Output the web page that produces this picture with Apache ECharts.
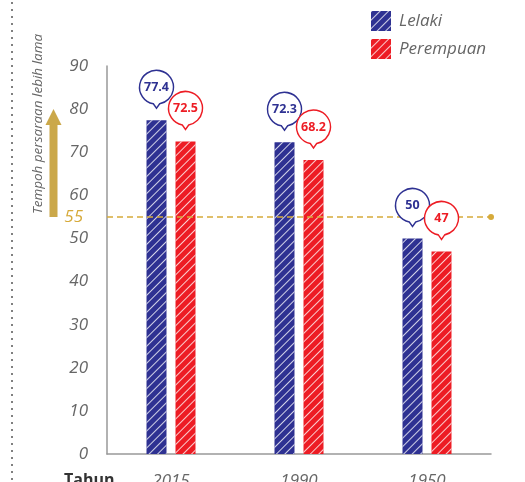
<!DOCTYPE html>
<html>
<head>
<meta charset="utf-8">
<script src="https://cdn.jsdelivr.net/npm/echarts@6/dist/echarts.min.js"></script>
<style>
html,body{margin:0;padding:0;background:#fff;}
#c{width:525px;height:482px;}
</style>
</head>
<body>
<div id="c"></div>
<script>
var categories = ['2015', '1990', '1950'];
var lelaki = [77.4, 72.3, 50];
var perempuan = [72.5, 68.2, 47];
var seriesNames = ['Lelaki', 'Perempuan'];
var yTicks = [0, 10, 20, 30, 40, 50, 60, 70, 80, 90];
var thresholdValue = 55;
var yAxisTitle = 'Tempoh persaraan lebih lama';
var xAxisTitle = 'Tahun';

var BLUE = '#2e3192';
var RED = '#ed1c24';
var GOLD = '#d6aa3a';
var GRAY = '#666666';
var FONT = '"Open Sans", "DejaVu Sans", sans-serif';

var pinPath = 'path://M14,32.72 A16,16 0 1,1 20,32.72 L17,37 Z';

function stripes() {
  return {
    symbol: 'rect',
    symbolSize: 1,
    color: 'rgba(255,255,255,0.78)',
    dashArrayX: [1, 0],
    dashArrayY: [0.9, 4.2],
    rotation: -Math.PI / 4
  };
}

function pins(values, color) {
  return {
    symbol: pinPath,
    symbolSize: [34, 38],
    symbolOffset: [0, -31],
    silent: true,
    itemStyle: { color: '#fff', borderColor: color, borderWidth: 1.5, decal: 'none' },
    label: {
      show: true, position: 'inside', offset: [0, -2],
      color: color, fontWeight: 'bold', fontSize: 12.5, fontFamily: FONT,
      formatter: function (p) { return String(p.value); }
    },
    data: values.map(function (v, i) { return { coord: [i, v], value: v }; })
  };
}

var chart = echarts.init(document.getElementById('c'), null, { renderer: 'canvas' });
chart.setOption({
  animation: false,
  backgroundColor: '#fff',
  grid: { left: 107, right: 34, top: 66, bottom: 28, containLabel: false, outerBoundsMode: 'none' },
  legend: {
    orient: 'vertical', left: 371, top: 11,
    itemWidth: 20, itemHeight: 20, itemGap: 8, padding: 0,
    icon: 'rect',
    textStyle: { fontSize: 17, fontStyle: 'italic', color: GRAY, fontFamily: FONT, padding: [0, 0, 0, 3] },
    data: seriesNames
  },
  xAxis: {
    type: 'category',
    data: categories,
    axisLine: { lineStyle: { color: '#999', width: 1.5 } },
    axisTick: { show: false },
    axisLabel: { margin: 19, fontSize: 17, fontStyle: 'italic', color: GRAY, fontFamily: FONT },
    splitLine: { show: false }
  },
  yAxis: {
    type: 'value', min: yTicks[0], max: yTicks[yTicks.length - 1], interval: yTicks[1] - yTicks[0],
    axisLine: { show: true, lineStyle: { color: '#999', width: 1.5 } },
    axisTick: { show: false },
    splitLine: { show: false },
    axisLabel: { margin: 19, fontSize: 17, fontStyle: 'italic', color: GRAY, fontFamily: FONT }
  },
  series: [
    {
      name: seriesNames[0], type: 'bar', data: lelaki, barWidth: 20, barGap: '45%',
      itemStyle: { color: BLUE, decal: stripes() },
      markPoint: pins(lelaki, BLUE),
      markLine: {
        silent: true,
        symbol: ['none', 'circle'], symbolSize: 6,
        lineStyle: { color: GOLD, type: [6, 4], width: 1.5 },
        label: {
          show: true, position: 'start', distance: 24, formatter: String(thresholdValue),
          color: GOLD, fontSize: 17, fontStyle: 'italic', fontFamily: FONT
        },
        data: [{ yAxis: thresholdValue }]
      },
      z: 2
    },
    {
      name: seriesNames[1], type: 'bar', data: perempuan, barWidth: 20,
      itemStyle: { color: RED, decal: stripes() },
      markPoint: pins(perempuan, RED),
      z: 2
    }
  ],
  graphic: [
    {
      type: 'line', silent: true,
      shape: { x1: 12, y1: 2, x2: 12, y2: 482 },
      style: { stroke: '#808080', lineWidth: 2, lineDash: [2, 5], lineCap: 'butt' }
    },
    {
      type: 'polygon', silent: true,
      shape: { points: [[49.5, 217], [57.5, 217], [57.5, 125], [61.5, 125], [53.5, 109], [45.5, 125], [49.5, 125]] },
      style: { fill: '#cba84a' }
    },
    {
      type: 'text', silent: true, x: 38, y: 124, rotation: Math.PI / 2,
      style: {
        text: yAxisTitle, fill: GRAY, fontSize: 13.5, fontStyle: 'italic', fontFamily: FONT,
        align: 'center', verticalAlign: 'middle'
      }
    },
    {
      type: 'text', silent: true, x: 64, y: 472,
      style: { text: xAxisTitle, fill: '#333', fontSize: 16, fontWeight: 'bold', fontFamily: FONT }
    }
  ]
});
</script>
</body>
</html>
